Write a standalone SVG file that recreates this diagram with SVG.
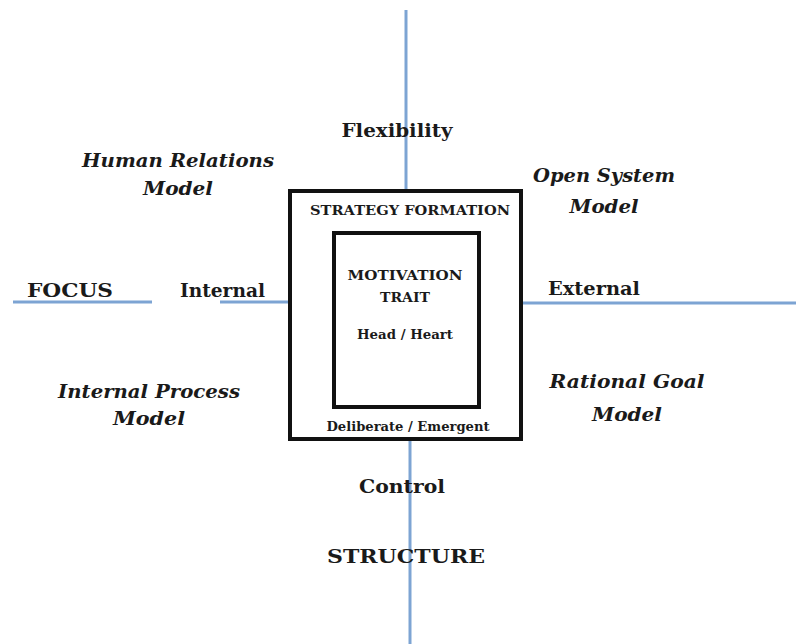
<svg xmlns="http://www.w3.org/2000/svg" width="796" height="644" viewBox="0 0 796 644">
<style>
.ax{stroke:#7da4d3;stroke-width:3;fill:none}
.box{fill:#fff;stroke:#111;stroke-width:4}
.t{font-family:"DejaVu Serif","Liberation Serif",serif;font-weight:bold;fill:#1a1a1a;font-size:18px}
.i{font-style:italic}
.s{font-size:12px}
</style>
<rect width="796" height="644" fill="#fff"/>
<g id="connectors">
<line class="ax" x1="406" y1="10" x2="406" y2="191"/>
<line class="ax" x1="410" y1="441" x2="410" y2="644"/>
<line class="ax" x1="13" y1="302" x2="152" y2="302"/>
<line class="ax" x1="220" y1="302" x2="290" y2="302"/>
<line class="ax" x1="521" y1="303" x2="796" y2="303"/>
</g>
<g id="strategy">
<rect class="box" x="290" y="191" width="231" height="248"/>
<text class="t s" x="410" y="215" text-anchor="middle" textLength="200" lengthAdjust="spacingAndGlyphs">STRATEGY FORMATION</text>
<text class="t s" x="408" y="431" text-anchor="middle" textLength="163" lengthAdjust="spacingAndGlyphs">Deliberate / Emergent</text>
</g>
<g id="motivation">
<rect class="box" x="334" y="233" width="145" height="174"/>
<text class="t s" x="405" y="280" text-anchor="middle" textLength="115" lengthAdjust="spacingAndGlyphs">MOTIVATION</text>
<text class="t s" x="405" y="302" text-anchor="middle" textLength="50" lengthAdjust="spacingAndGlyphs">TRAIT</text>
<text class="t s" x="405" y="339" text-anchor="middle" textLength="96" lengthAdjust="spacingAndGlyphs">Head / Heart</text>
</g>
<g id="flexibility"><text class="t" x="397" y="137" text-anchor="middle" textLength="111" lengthAdjust="spacingAndGlyphs">Flexibility</text></g>
<g id="control"><text class="t" x="402" y="493" text-anchor="middle" textLength="86" lengthAdjust="spacingAndGlyphs">Control</text></g>
<g id="structure"><text class="t" x="406" y="563" text-anchor="middle" textLength="158" lengthAdjust="spacingAndGlyphs">STRUCTURE</text></g>
<g id="focus"><text class="t" x="27" y="297" textLength="86" lengthAdjust="spacingAndGlyphs">FOCUS</text></g>
<g id="internal"><text class="t" x="180" y="297" textLength="85" lengthAdjust="spacingAndGlyphs">Internal</text></g>
<g id="external"><text class="t" x="548" y="295" textLength="92" lengthAdjust="spacingAndGlyphs">External</text></g>
<g id="human-relations">
<text class="t i" x="178" y="167" text-anchor="middle" textLength="192" lengthAdjust="spacingAndGlyphs">Human Relations</text>
<text class="t i" x="178" y="195" text-anchor="middle" textLength="70" lengthAdjust="spacingAndGlyphs">Model</text>
</g>
<g id="open-system">
<text class="t i" x="604" y="182" text-anchor="middle" textLength="142" lengthAdjust="spacingAndGlyphs">Open System</text>
<text class="t i" x="604" y="213" text-anchor="middle" textLength="69" lengthAdjust="spacingAndGlyphs">Model</text>
</g>
<g id="internal-process">
<text class="t i" x="149" y="398" text-anchor="middle" textLength="182" lengthAdjust="spacingAndGlyphs">Internal Process</text>
<text class="t i" x="149" y="425" text-anchor="middle" textLength="72" lengthAdjust="spacingAndGlyphs">Model</text>
</g>
<g id="rational-goal">
<text class="t i" x="627" y="388" text-anchor="middle" textLength="155" lengthAdjust="spacingAndGlyphs">Rational Goal</text>
<text class="t i" x="627" y="421" text-anchor="middle" textLength="70" lengthAdjust="spacingAndGlyphs">Model</text>
</g>
</svg>
